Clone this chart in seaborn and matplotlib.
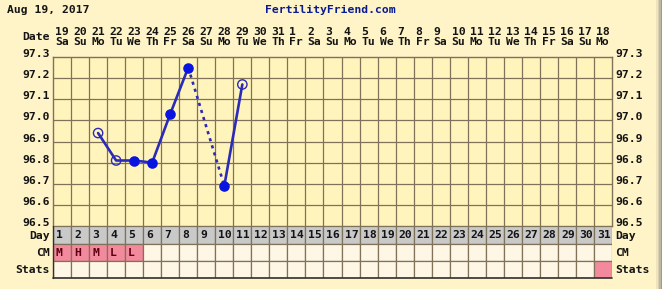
import matplotlib
matplotlib.use("Agg")
import matplotlib.pyplot as plt
import matplotlib.patches as mpatches
import matplotlib.transforms as mtrans
import seaborn as sns
import pandas as pd
import numpy as np

# ---------------- data ----------------
cycle_days = list(range(1, 32))
date_nums = [19, 20, 21, 22, 23, 24, 25, 26, 27, 28, 29, 30, 31,
             1, 2, 3, 4, 5, 6, 7, 8, 9, 10, 11, 12, 13, 14, 15, 16, 17, 18]
weekdays = ["Sa", "Su", "Mo", "Tu", "We", "Th", "Fr"] * 4 + ["Sa", "Su", "Mo"]
temp_days = [3, 4, 5, 6, 7, 8, 10, 11]
temps = [96.94, 96.81, 96.81, 96.80, 97.03, 97.25, 96.69, 97.17]
temp_open = [True, True, False, False, False, False, False, True]
cm_days = [1, 2, 3, 4, 5]
cm_values = ["M", "H", "M", "L", "L"]
stats_days = [31]
y_ticks = [96.5, 96.6, 96.7, 96.8, 96.9, 97.0, 97.1, 97.2, 97.3]
title_left = "Aug 19, 2017"
title_center = "FertilityFriend.com"

# ---------------- style ----------------
W, H = 662, 289
BG = "#FFF3C8"
PLOT_BG = "#FFF5BC"
GRID = "#807258"
BLUE_LINE = "#2B2BB8"
BLUE_DOT = "#0A14E0"
PINK = "#F3899C"
CREAM = "#FFF7E6"
GRAY = "#C9C9C9"
TEXT = "#141414"
FONT = "DejaVu Sans Mono"
FS = 8.2

sns.set_theme(style="white")
plt.rcParams["font.family"] = [FONT, "DejaVu Sans"]

fig = plt.figure(figsize=(W / 100, H / 100), dpi=100)
fig.patch.set_facecolor(BG)

def fx(px):
    return px / W

def fy(py):
    return 1 - py / H

left, right = 53, 612
top, bottom = 57, 226
tbl_bottom = 278

ax = fig.add_axes([fx(left), fy(bottom), fx(right - left), fy(top) - fy(bottom)])
ax.set_facecolor(PLOT_BG)
ax.set_xlim(0.5, 31.5)
ax.set_ylim(96.5, 97.3)

# grid
for d in range(1, 31):
    ax.axvline(d + 0.5, color=GRID, lw=0.9, zorder=1)
for t in y_ticks[1:-1]:
    ax.axhline(t, color=GRID, lw=0.9, zorder=1)
for s in ax.spines.values():
    s.set_color(GRID)
    s.set_linewidth(1.0)

df = pd.DataFrame({"day": temp_days, "temp": temps, "open": temp_open})

# solid segments: consecutive days; dotted for gaps
seg_solid = []
cur = [0]
for i in range(1, len(temp_days)):
    if temp_days[i] - temp_days[i - 1] == 1:
        cur.append(i)
    else:
        seg_solid.append(cur)
        ax.plot([temp_days[i - 1], temp_days[i]], [temps[i - 1], temps[i]],
                color=BLUE_LINE, lw=1.9, ls=(0, (1.2, 1.6)), zorder=2)
        cur = [i]
seg_solid.append(cur)
for seg in seg_solid:
    if len(seg) > 1:
        sns.lineplot(data=df.iloc[seg], x="day", y="temp", ax=ax, color=BLUE_LINE,
                     lw=1.9, sort=False, estimator=None, zorder=3, legend=False)

filled = df[~df["open"]]
hollow = df[df["open"]]
sns.scatterplot(data=filled, x="day", y="temp", ax=ax, s=58, color=BLUE_DOT,
                edgecolor=BLUE_DOT, linewidth=0, zorder=4, legend=False)
sns.scatterplot(data=hollow, x="day", y="temp", ax=ax, s=45, facecolor="none",
                edgecolor=BLUE_LINE, linewidth=1.0, zorder=4, legend=False)

ax.set_xlabel("")
ax.set_ylabel("")
ax.set_xticks([])
ax.set_yticks(y_ticks)
ax.set_yticklabels([])
ax.tick_params(axis="y", length=0)

# y labels on both sides, sitting just above their grid line
ytrans_l = mtrans.offset_copy(
    mtrans.blended_transform_factory(fig.transFigure, ax.transData),
    fig=fig, x=0, y=3, units="dots")
for t in y_ticks:
    lab = f"{t:.1f}"
    fig.text(fx(50), t, lab, transform=ytrans_l, ha="right", va="center",
             fontsize=FS, fontweight="bold", color=TEXT)
    fig.text(fx(615), t, lab, transform=ytrans_l, ha="left", va="center",
             fontsize=FS, fontweight="bold", color=TEXT)

# date header (left-aligned in each column)
trans = mtrans.blended_transform_factory(ax.transData, fig.transFigure)
trans_l = mtrans.offset_copy(trans, fig=fig, x=2, y=0, units="dots")
for d, n, w in zip(cycle_days, date_nums, weekdays):
    ax.text(d - 0.5, fy(32), str(n), transform=trans_l, ha="left", va="center",
            fontsize=FS, fontweight="bold", color=TEXT)
    ax.text(d - 0.5, fy(42), w, transform=trans_l, ha="left", va="center",
            fontsize=FS, fontweight="bold", color=TEXT)
fig.text(fx(50), fy(37), "Date", ha="right", va="center", fontsize=FS,
         fontweight="bold", color=TEXT)
fig.text(fx(7), fy(10), title_left, ha="left", va="center", fontsize=FS,
         fontweight="bold", color=TEXT)
fig.text(fx(330), fy(10), title_center, ha="center", va="center", fontsize=FS,
         fontweight="bold", color="#0A1A90")

# table rows
tax = fig.add_axes([fx(left), fy(tbl_bottom), fx(right - left), fy(bottom) - fy(tbl_bottom)])
tax.set_xlim(0.5, 31.5)
tax.set_ylim(tbl_bottom - bottom, 0)
tax.axis("off")
ttrans = mtrans.offset_copy(tax.transData, fig=fig, x=3, y=0, units="dots")
rows = [(0, 18), (18, 35), (35, 52)]
cm_map = dict(zip(cm_days, cm_values))
for d in cycle_days:
    y0, h0 = rows[0]
    tax.add_patch(mpatches.Rectangle((d - 0.5, y0), 1, h0 - y0, facecolor=GRAY,
                                     edgecolor=GRID, lw=0.9))
    tax.text(d - 0.5, (y0 + h0) / 2 + 0.5, str(d), transform=ttrans, ha="left",
             va="center", fontsize=FS, fontweight="bold", color=TEXT)
    y1, h1 = rows[1]
    tax.add_patch(mpatches.Rectangle((d - 0.5, y1), 1, h1 - y1,
                                     facecolor=PINK if d in cm_map else CREAM,
                                     edgecolor=GRID, lw=0.9))
    if d in cm_map:
        tax.text(d - 0.5, (y1 + h1) / 2 + 0.5, cm_map[d], transform=ttrans,
                 ha="left", va="center", fontsize=FS, fontweight="bold",
                 color="#5A0010")
    y2, h2 = rows[2]
    tax.add_patch(mpatches.Rectangle((d - 0.5, y2), 1, h2 - y2,
                                     facecolor=PINK if d in stats_days else CREAM,
                                     edgecolor=GRID, lw=0.9))
tax.plot([0.5, 31.5], [52, 52], color="#303030", lw=1.2, clip_on=False)
tax.plot([0.5, 0.5], [0, 52], color="#303030", lw=1.0, clip_on=False)

for lbl, ypx in [("Day", 236), ("CM", 253), ("Stats", 270)]:
    fig.text(fx(50), fy(ypx), lbl, ha="right", va="center", fontsize=FS,
             fontweight="bold", color=TEXT)
    fig.text(fx(615), fy(ypx), lbl, ha="left", va="center", fontsize=FS,
             fontweight="bold", color=TEXT)

# right shadow
for i, c in enumerate(["#EDE3BC", "#D8D0B0", "#BDB6A0", "#A09A8A"]):
    fig.patches.append(mpatches.Rectangle((fx(656 + i * 1.5), 0), fx(1.5), 1,
                                          transform=fig.transFigure, facecolor=c,
                                          edgecolor="none"))

fig.savefig("out.png", dpi=100, facecolor=BG)
